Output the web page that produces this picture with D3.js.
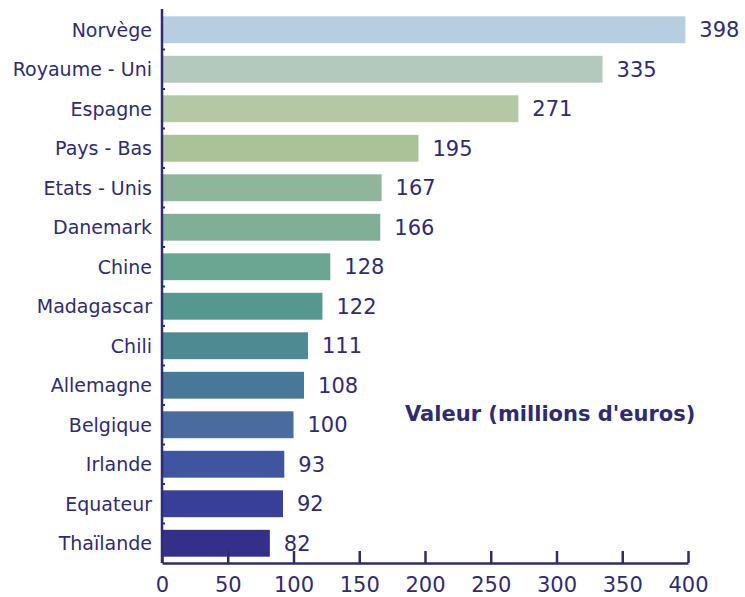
<!DOCTYPE html>
<html>
<head>
<meta charset="utf-8">
<script src="https://cdn.jsdelivr.net/npm/d3@7"></script>
<style>
  html, body { margin: 0; padding: 0; background: #fff; }
  svg { display: block; }
  text { font-family: "DejaVu Sans", sans-serif; fill: #2f2b72; }
</style>
</head>
<body>
<svg id="chart" width="745" height="597"></svg>
<script>
// Export values by destination country
const countries = ["Norvège", "Royaume - Uni", "Espagne", "Pays - Bas", "Etats - Unis", "Danemark",
  "Chine", "Madagascar", "Chili", "Allemagne", "Belgique", "Irlande", "Equateur", "Thaïlande"];
const values = [398, 335, 271, 195, 167, 166, 128, 122, 111, 108, 100, 93, 92, 82];
const barColors = ["#b6cee0", "#b3c9be", "#b5c8a6", "#abc198", "#8fb69b", "#80af98",
  "#6aa692", "#56988f", "#4e8a92", "#477897", "#4a6b9d", "#3f55a0", "#383f98", "#33308a"];
const xTicks = [0, 50, 100, 150, 200, 250, 300, 350, 400];
const axisTitle = "Valeur (millions d'euros)";

const svg = d3.select("#chart");
const ink = "#2f2b72";
const plot = { left: 162, right: 688, top: 10, bottom: 563 };

const x = d3.scaleLinear().domain([0, 400]).range([plot.left, plot.right]);
const y = d3.scaleBand().domain(countries).range([plot.top, plot.bottom]).paddingInner(0.32).paddingOuter(0.16);

// Bars
svg.append("g").selectAll("rect")
  .data(values)
  .join("rect")
  .attr("x", x(0))
  .attr("y", (d, i) => y(countries[i]))
  .attr("width", d => x(d) - x(0))
  .attr("height", y.bandwidth())
  .attr("fill", (d, i) => barColors[i]);

// Value labels
svg.append("g").selectAll("text")
  .data(values)
  .join("text")
  .attr("x", d => x(d) + 14)
  .attr("y", (d, i) => y(countries[i]) + y.bandwidth() / 2)
  .attr("dy", "0.36em")
  .attr("font-size", 21)
  .text(d => d);

// Category labels
svg.append("g").selectAll("text")
  .data(countries)
  .join("text")
  .attr("x", plot.left - 10)
  .attr("y", d => y(d) + y.bandwidth() / 2)
  .attr("dy", "0.36em")
  .attr("text-anchor", "end")
  .attr("font-size", 19)
  .text(d => d);

// Vertical axis line with small separators between rows
svg.append("line")
  .attr("x1", plot.left).attr("x2", plot.left)
  .attr("y1", plot.top - 1).attr("y2", plot.bottom)
  .attr("stroke", ink).attr("stroke-width", 2.5);
svg.append("g").selectAll("line")
  .data(countries.slice(1))
  .join("line")
  .attr("x1", plot.left).attr("x2", plot.left + 3)
  .attr("y1", d => y(d) - y.step() * y.paddingInner() / 2)
  .attr("y2", d => y(d) - y.step() * y.paddingInner() / 2)
  .attr("stroke", ink).attr("stroke-width", 2);

// Horizontal axis: ticks point up into the plot
const xAxis = d3.axisBottom(x).tickValues(xTicks).tickSize(-12).tickPadding(14).tickSizeOuter(0);
const gx = svg.append("g").attr("transform", `translate(0,${plot.bottom})`).call(xAxis);
gx.select(".domain").attr("stroke", ink).attr("stroke-width", 2.5);
gx.selectAll(".tick line").attr("stroke", ink).attr("stroke-width", 2.5);
gx.selectAll(".tick text")
  .attr("fill", ink)
  .attr("font-size", 21)
  .attr("font-family", "'DejaVu Sans', sans-serif")
  .attr("dy", "0.71em");

// Axis title
svg.append("text")
  .attr("x", 405)
  .attr("y", 421)
  .attr("font-size", 21)
  .attr("font-weight", 700)
  .text(axisTitle);
</script>
</body>
</html>
